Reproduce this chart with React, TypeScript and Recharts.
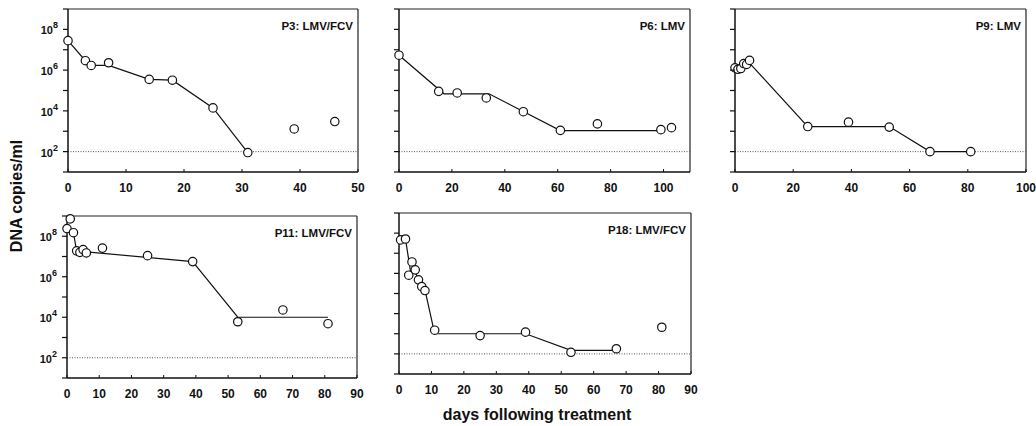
import React from 'react';
import { ScatterChart, Scatter, XAxis, YAxis, ReferenceLine } from 'recharts';

// P3: LMV/FCV
const p3Days = [0, 3, 4, 7, 14, 18, 25, 31, 39, 46];
const p3Copies = [2.8e7, 2.9e6, 1.7e6, 2.3e6, 3.5e5, 3.2e5, 1.4e4, 90, 1.3e3, 3.0e3];
const p3FitDays = [0, 3, 4, 7, 14, 18, 25, 31];
const p3FitCopies = [2.8e7, 2.9e6, 1.7e6, 1.7e6, 3.5e5, 3.2e5, 1.4e4, 90];

// P6: LMV
const p6Days = [0, 15, 22, 33, 47, 61, 75, 99, 103];
const p6Copies = [5.4e6, 9.1e4, 7.6e4, 4.3e4, 9.1e3, 1.1e3, 2.3e3, 1.2e3, 1.5e3];
const p6FitDays = [0, 17, 34, 61, 99];
const p6FitCopies = [5.4e6, 6.9e4, 6.9e4, 1.07e3, 1.07e3];

// P9: LMV
const p9Days = [0, 1, 2, 3, 4, 5, 25, 39, 53, 67, 81];
const p9Copies = [1.3e6, 1.1e6, 1.2e6, 2.1e6, 1.9e6, 3.0e6, 1.7e3, 2.8e3, 1.6e3, 100, 100];
const p9FitDays = [0, 5, 25, 53, 67, 81];
const p9FitCopies = [1.2e6, 2.2e6, 1.7e3, 1.7e3, 100, 100];

// P11: LMV/FCV
const p11Days = [0, 1, 2, 3, 4, 5, 6, 11, 25, 39, 53, 67, 81];
const p11Copies = [2.4e8, 7.2e8, 1.5e8, 1.9e7, 1.6e7, 2.2e7, 1.5e7, 2.6e7, 1.1e7, 5.6e6, 6.0e3, 2.3e4, 4.8e3];
const p11FitDays = [0, 2, 3, 6, 39, 53, 81];
const p11FitCopies = [2.4e8, 1.5e8, 1.8e7, 1.7e7, 5.6e6, 1.0e4, 1.0e4];

// P18: LMV/FCV
const p18Days = [0.5, 2, 3, 4, 5, 6, 7, 8, 11, 25, 39, 53, 67, 81];
const p18Copies = [4.6e7, 5.1e7, 8.1e5, 3.7e6, 1.5e6, 4.8e5, 2.2e5, 1.4e5, 1.5e3, 810, 1.2e3, 120, 180, 2.1e3];
const p18FitDays = [0.5, 2, 3.5, 5, 6, 8, 11, 39, 53, 67];
const p18FitCopies = [4.6e7, 5.1e7, 1.4e6, 1.2e6, 5e5, 1.5e5, 1.0e3, 1.0e3, 150, 150];

const yTicks = [10, 1e2, 1e3, 1e4, 1e5, 1e6, 1e7, 1e8, 1e9];
const detectionLimit = 100;

const FONT = '"Liberation Sans", Arial, Helvetica, sans-serif';
const INK = '#111';

const zip = (days: number[], copies: number[]) => days.map((d, i) => ({ day: d, copies: copies[i] }));
const range = (max: number, step: number) => {
  const out: number[] = [];
  for (let v = 0; v <= max; v += step) out.push(v);
  return out;
};

const YTick = (props: any) => {
  const { x, y, payload, showLabel } = props;
  const e = Math.round(Math.log10(payload.value));
  return (
    <g>
      <line x1={x - 5} x2={x} y1={y} y2={y} stroke={INK} strokeWidth={1.2} />
      {showLabel && e % 2 === 0 ? (
        <text x={x - 10} y={y + 5} textAnchor="end" fontFamily={FONT} fontWeight="bold" fontSize={11} fill={INK}>
          10
          <tspan dy={-6} fontSize={9}>{e}</tspan>
        </text>
      ) : null}
    </g>
  );
};

const XTick = (props: any) => {
  const { x, y, payload } = props;
  return (
    <g>
      <line x1={x} x2={x} y1={y} y2={y - 3} stroke={INK} strokeWidth={1} />
      <text x={x} y={y + 20} textAnchor="middle" fontFamily={FONT} fontWeight="bold" fontSize={12} fill={INK}>
        {payload.value}
      </text>
    </g>
  );
};

const Circle = (props: any) => {
  const { cx, cy } = props;
  return <circle cx={cx} cy={cy} r={4.2} fill="#fff" stroke={INK} strokeWidth={1.2} />;
};

const NoMark = () => <g />;

interface PanelProps {
  left: number;
  top: number;
  plotW: number;
  plotH: number;
  xMax: number;
  xStep: number;
  xTickMax: number;
  title: string;
  showYLabels: boolean;
  points: { day: number; copies: number }[];
  fit: { day: number; copies: number }[];
}

const AXIS_W = 50;
const M_TOP = 5;
const M_RIGHT = 14;
const X_H = 28;

const Panel: React.FC<PanelProps> = ({ left, top, plotW, plotH, xMax, xStep, xTickMax, title, showYLabels, points, fit }) => {
  const width = AXIS_W + plotW + M_RIGHT;
  const height = M_TOP + plotH + X_H;
  return (
    <div style={{ position: 'absolute', left: left - AXIS_W, top: top - M_TOP, width, height }}>
      <ScatterChart width={width} height={height} margin={{ top: M_TOP, right: M_RIGHT, bottom: 0, left: 0 }}>
        <XAxis
          dataKey="day"
          type="number"
          domain={[0, xMax]}
          ticks={range(xTickMax, xStep)}
          interval={0}
          height={X_H}
          tickLine={false}
          tickSize={0}
          tickMargin={0}
          tick={<XTick />}
          axisLine={{ stroke: INK, strokeWidth: 1.5 }}
        />
        <YAxis
          dataKey="copies"
          type="number"
          scale="log"
          domain={[10, 1e9]}
          ticks={yTicks}
          interval={0}
          width={AXIS_W}
          tickLine={false}
          tickSize={0}
          tickMargin={0}
          tick={<YTick showLabel={showYLabels} />}
          axisLine={{ stroke: INK, strokeWidth: 1.5 }}
        />
        {/* frame: top and right edges */}
        <ReferenceLine y={1e9} stroke="#222" strokeWidth={1.2} />
        <ReferenceLine x={xMax} stroke="#222" strokeWidth={1.2} />
        <ReferenceLine y={detectionLimit} stroke="#555" strokeWidth={1} strokeDasharray="1 1.5" />
        <Scatter data={fit} shape={<NoMark />} line={{ stroke: INK, strokeWidth: 1.2 }} fill={INK} isAnimationActive={false} />
        <Scatter data={points} shape={<Circle />} isAnimationActive={false} />
      </ScatterChart>
      <div
        style={{
          position: 'absolute',
          right: M_RIGHT + 5,
          top: M_TOP + 12,
          fontFamily: FONT,
          fontWeight: 'bold',
          fontSize: 11.5,
          color: INK,
          lineHeight: 1,
          whiteSpace: 'nowrap',
        }}
      >
        {title}
      </div>
    </div>
  );
};

export default function App() {
  return (
    <div style={{ position: 'absolute', left: 0, top: 0, width: 1036, height: 426, background: '#fff', overflow: 'hidden' }}>
      <Panel left={68} top={9} plotW={290} plotH={163} xMax={50} xStep={10} xTickMax={50} title="P3: LMV/FCV" showYLabels points={zip(p3Days, p3Copies)} fit={zip(p3FitDays, p3FitCopies)} />
      <Panel left={399} top={9} plotW={291} plotH={163} xMax={110} xStep={20} xTickMax={100} title="P6: LMV" showYLabels={false} points={zip(p6Days, p6Copies)} fit={zip(p6FitDays, p6FitCopies)} />
      <Panel left={735} top={9} plotW={291} plotH={163} xMax={100} xStep={20} xTickMax={100} title="P9: LMV" showYLabels={false} points={zip(p9Days, p9Copies)} fit={zip(p9FitDays, p9FitCopies)} />
      <Panel left={67} top={216} plotW={290} plotH={162} xMax={90} xStep={10} xTickMax={90} title="P11: LMV/FCV" showYLabels points={zip(p11Days, p11Copies)} fit={zip(p11FitDays, p11FitCopies)} />
      <Panel left={399} top={213} plotW={292} plotH={161} xMax={90} xStep={10} xTickMax={90} title="P18: LMV/FCV" showYLabels={false} points={zip(p18Days, p18Copies)} fit={zip(p18FitDays, p18FitCopies)} />
      <div
        style={{
          position: 'absolute',
          left: 17,
          top: 196,
          transform: 'translate(-50%, -50%) rotate(-90deg)',
          fontFamily: FONT,
          fontWeight: 'bold',
          fontSize: 16,
          color: INK,
          whiteSpace: 'nowrap',
        }}
      >
        DNA copies/ml
      </div>
      <div
        style={{
          position: 'absolute',
          left: 537,
          top: 415,
          transform: 'translate(-50%, -50%)',
          fontFamily: FONT,
          fontWeight: 'bold',
          fontSize: 16,
          color: INK,
          whiteSpace: 'nowrap',
        }}
      >
        days following treatment
      </div>
    </div>
  );
}
